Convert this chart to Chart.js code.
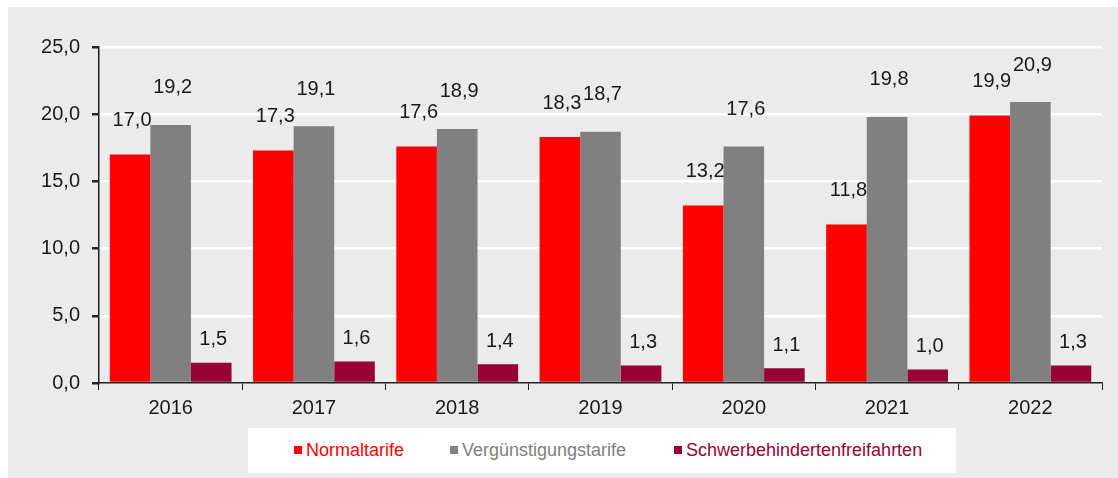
<!DOCTYPE html>
<html>
<head>
<meta charset="utf-8">
<script src="https://cdn.jsdelivr.net/npm/chart.js@4"></script>
<style>
    body { margin: 0; background: #fff; }
    #frame {
        position: absolute; left: 8px; top: 7px; width: 1110px; height: 471px;
        background: #ebebeb;
    }
    #frame canvas { position: absolute; left: 0; top: 0; }
    #legend {
        position: absolute; left: 240px; top: 421px; width: 708px; height: 45px;
        background: #fff; font: 18px "Liberation Sans", Arial, sans-serif;
    }
    .item { position: absolute; top: 12px; white-space: nowrap; }
    .box { display: inline-block; width: 8px; height: 8px; margin-right: 4px; vertical-align: 2px; }
</style>
</head>
<body>
<div id="frame">
    <canvas id="chart" width="1110" height="471"></canvas>
    <div id="legend"></div>
</div>
<script>
// Data
const years = ['2016', '2017', '2018', '2019', '2020', '2021', '2022'];
const normaltarife = [17.0, 17.3, 17.6, 18.3, 13.2, 11.8, 19.9];
const verguenstigung = [19.2, 19.1, 18.9, 18.7, 17.6, 19.8, 20.9];
const schwerbehindert = [1.5, 1.6, 1.4, 1.3, 1.1, 1.0, 1.3];
const seriesNames = ['Normaltarife', 'Vergünstigungstarife', 'Schwerbehindertenfreifahrten'];
const yTicks = [0, 5, 10, 15, 20, 25];

const colors = ['#ff0000', '#808080', '#990033'];
const fmt = v => v.toFixed(1).replace('.', ',');

// Labels sit above each bar, like the original
const labelPlugin = {
    id: 'barLabels',
    afterDatasetsDraw(chart) {
        const ctx = chart.ctx;
        const lift = [34, 37, 23];
        ctx.save();
        ctx.font = '20px "Liberation Sans", Arial, sans-serif';
        ctx.fillStyle = '#1a1a1a';
        ctx.textAlign = 'center';
        ctx.textBaseline = 'middle';
        chart.data.datasets.forEach((ds, i) => {
            chart.getDatasetMeta(i).data.forEach((bar, j) => {
                ctx.fillText(fmt(ds.data[j]), bar.x + 2, bar.y - lift[i]);
            });
        });
        ctx.restore();
    }
};

const ctx = document.getElementById('chart').getContext('2d');
new Chart(ctx, {
    type: 'bar',
    data: {
        labels: years,
        datasets: [normaltarife, verguenstigung, schwerbehindert].map((d, i) => ({
            label: seriesNames[i],
            data: d,
            backgroundColor: colors[i],
            categoryPercentage: 0.85,
            barPercentage: 1.0
        }))
    },
    options: {
        responsive: false,
        animation: false,
        layout: { padding: { top: 40, right: 16, bottom: 55, left: 0 } },
        plugins: { legend: { display: false }, tooltip: { enabled: false } },
        scales: {
            x: {
                afterFit: s => { s.height = 40; },
                grid: { drawOnChartArea: false, color: '#222', tickLength: 7, offset: true },
                border: { color: '#222', width: 1.5 },
                ticks: { color: '#1a1a1a', padding: 6, font: { size: 20, family: '"Liberation Sans", Arial, sans-serif' } }
            },
            y: {
                min: 0, max: 25,
                afterFit: s => { s.width = 91; },
                afterBuildTicks: s => { s.ticks = yTicks.map(v => ({ value: v })); },
                grid: {
                    color: c => c.tick && c.tick.value === 0 ? 'rgba(0,0,0,0)' : '#ffffff',
                    lineWidth: 2.5,
                    tickColor: '#222',
                    tickLength: 7
                },
                border: { color: '#222', width: 1.5 },
                ticks: {
                    color: '#1a1a1a', padding: 12,
                    font: { size: 20, family: '"Liberation Sans", Arial, sans-serif' },
                    callback: v => fmt(v)
                }
            }
        }
    },
    plugins: [labelPlugin]
});

// HTML legend with coloured text
const legendPos = [46, 202, 426];
const legend = document.getElementById('legend');
seriesNames.forEach((name, i) => {
    const el = document.createElement('div');
    el.className = 'item';
    el.style.left = legendPos[i] + 'px';
    el.style.color = colors[i];
    el.innerHTML = `<span class="box" style="background:${colors[i]}"></span>${name}`;
    legend.appendChild(el);
});
</script>
</body>
</html>
